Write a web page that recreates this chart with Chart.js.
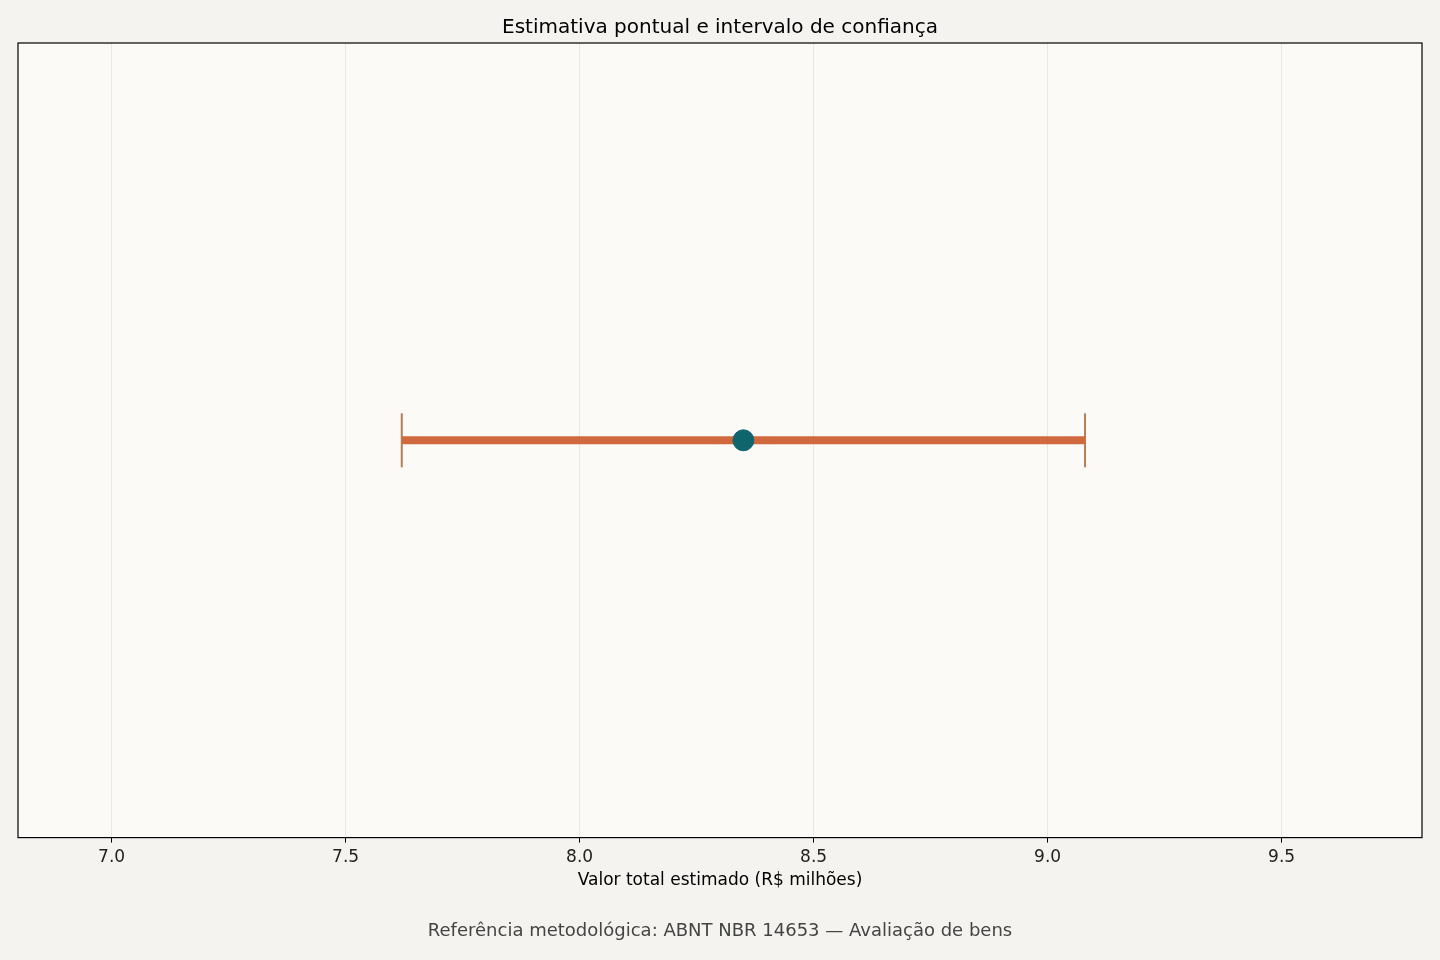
<!DOCTYPE html>
<html><head><meta charset="utf-8">
<script src="https://cdn.jsdelivr.net/npm/chart.js@4"></script>
<style>html,body{margin:0;padding:0;background:#f4f3f0;}#wrap{width:1440px;height:960px;}</style>
</head><body><div id="wrap"><canvas id="c" width="1440" height="960"></canvas></div>
<script>
const pointEstimate = [8.35];
const ciLower = [7.62];
const ciUpper = [9.08];
const rowY = [0];
const xTicks = [7.0, 7.5, 8.0, 8.5, 9.0, 9.5];
const titleText = "Estimativa pontual e intervalo de confiança";
const xTitle = "Valor total estimado (R$ milhões)";
const footerText = "Referência metodológica: ABNT NBR 14653 — Avaliação de bens";

const FONT = '"DejaVu Sans", sans-serif';

const bgPlugin = {
  id: 'bg',
  beforeDraw(chart) {
    const {ctx, chartArea: a} = chart;
    ctx.save();
    ctx.fillStyle = '#fbfaf7';
    ctx.fillRect(a.left, a.top, a.right - a.left, a.bottom - a.top);
    ctx.restore();
  },
  beforeDatasetsDraw(chart) {
    const {ctx} = chart;
    const xs = chart.scales.x, ys = chart.scales.y;
    ctx.save();
    ctx.strokeStyle = 'rgba(170,112,70,0.9)';
    ctx.lineWidth = 2;
    for (let i = 0; i < rowY.length; i++) {
      const y = ys.getPixelForValue(rowY[i]);
      [ciLower[i], ciUpper[i]].forEach(v => {
        const x = xs.getPixelForValue(v);
        ctx.beginPath();
        ctx.moveTo(x, y - 27);
        ctx.lineTo(x, y + 27);
        ctx.stroke();
      });
    }
    ctx.restore();
  },
  afterDraw(chart) {
    const {ctx, chartArea: a} = chart;
    ctx.save();
    ctx.strokeStyle = '#000';
    ctx.lineWidth = 1.2;
    ctx.strokeRect(a.left, a.top, a.right - a.left, a.bottom - a.top);
    ctx.restore();
  }
};

const ciData = [];
for (let i = 0; i < rowY.length; i++) {
  ciData.push({x: ciLower[i], y: rowY[i]});
  ciData.push({x: ciUpper[i], y: rowY[i]});
}

Chart.defaults.font.family = FONT;
new Chart(document.getElementById('c'), {
  type: 'scatter',
  data: {
    datasets: [
      {
        type: 'line',
        data: ciData,
        borderColor: '#d06a3e',
        borderWidth: 8,
        pointRadius: 0,
        borderCapStyle: 'butt',
        order: 2
      },
      {
        data: pointEstimate.map((v, i) => ({x: v, y: rowY[i]})),
        backgroundColor: '#10656d',
        borderColor: '#10656d',
        pointRadius: 10.5,
        pointHoverRadius: 10.5,
        order: 1
      }
    ]
  },
  options: {
    responsive: false,
    animation: false,
    devicePixelRatio: 1,
    layout: {padding: {left: 18, right: 18, top: 0, bottom: 8}},
    plugins: {
      legend: {display: false},
      tooltip: {enabled: false},
      title: {
        display: true, text: titleText, color: '#000',
        font: {family: FONT, size: 20, weight: 'normal'},
        padding: {top: 16, bottom: 3}
      },
      subtitle: {
        display: true, position: 'bottom', text: footerText, color: '#444',
        font: {family: FONT, size: 18, weight: 'normal'},
        padding: {top: 30, bottom: 10}
      }
    },
    scales: {
      x: {
        type: 'linear', min: 6.8, max: 9.8,
        afterBuildTicks(scale) { scale.ticks = xTicks.map(v => ({value: v})); },
        ticks: {
          color: '#222', font: {family: FONT, size: 17},
          padding: 5, maxRotation: 0,
          callback: v => Number(v).toFixed(1)
        },
        grid: {color: '#e9e7e2', lineWidth: 1, tickLength: 5, tickColor: '#000', drawTicks: true},
        border: {display: false},
        title: {display: true, text: xTitle, color: '#000', font: {family: FONT, size: 17}, padding: {top: -3, bottom: 0}}
      },
      y: {
        display: false, min: -1, max: 1
      }
    }
  },
  plugins: [bgPlugin]
});
</script></body></html>
